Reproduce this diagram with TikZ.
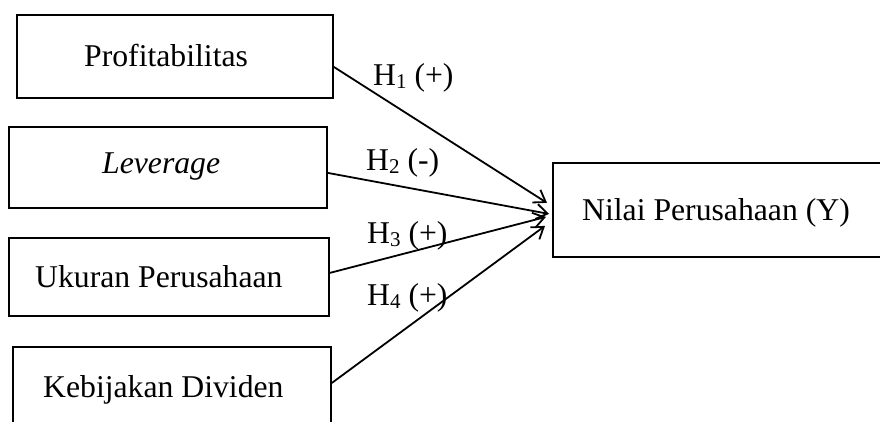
\documentclass[tikz,border=0pt]{standalone}
\usepackage{fontspec}
\setmainfont{Liberation Serif}
\usetikzlibrary{arrows.meta}
\newcommand{\hsub}[1]{\raisebox{-0.1em}{\fontsize{21}{21}\selectfont #1}}
\begin{document}
\begin{tikzpicture}[x=1pt,y=-1pt,
  box/.style={draw, line width=1.8pt, inner sep=0pt, anchor=north west},
  txt/.style={anchor=base west, inner sep=0pt, font=\fontsize{31.7}{38}\selectfont},
  conn/.style={line width=1.8pt, -{Straight Barb[length=11pt,width=15pt,line width=1.8pt]}},
]
\useasboundingbox (0,0) rectangle (880,421);
\clip (0,0) rectangle (880,421);
% boxes
\node[box, minimum width=316pt, minimum height=83pt] (b1) at (16,14) {};
\node[box, minimum width=318pt, minimum height=81pt] (b2) at (8,126) {};
\node[box, minimum width=320pt, minimum height=78pt] (b3) at (8,237) {};
\node[box, minimum width=318pt, minimum height=120pt] (b4) at (12,346) {};
\node[box, minimum width=450pt, minimum height=94pt] (by) at (552,162) {};
% box texts
\node[txt] (t1) at (84,66) {Profitabilitas};
\node[txt] (t2) at (102,173) {\itshape Leverage};
\node[txt] (t3) at (35,287) {Ukuran Perusahaan};
\node[txt] (t4) at (43,397) {Kebijakan Dividen};
\node[txt] (ty) at (582,220) {Nilai Perusahaan (Y)};
% labels
\node[txt] (h1) at (373,85) {H\hsub{1} (+)};
\node[txt] (h2) at (366,170) {H\hsub{2} (-)};
\node[txt] (h3) at (367,243) {H\hsub{3} (+)};
\node[txt] (h4) at (367,305) {H\hsub{4} (+)};
% connectors
\draw[conn] ([yshift=-10.5pt]b1.east) -- ([xshift=-5pt,yshift=7pt]by.west);
\draw[conn] ([yshift=-5.5pt]b2.east) -- ([xshift=-3pt,yshift=-4pt]by.west);
\draw[conn] ([yshift=4pt]b3.east) -- ([xshift=-6pt,yshift=-7pt]by.west);
\draw[conn] ([yshift=-37pt]b4.north east) -- ([xshift=-7pt,yshift=-16pt]by.west);
\end{tikzpicture}
\end{document}
